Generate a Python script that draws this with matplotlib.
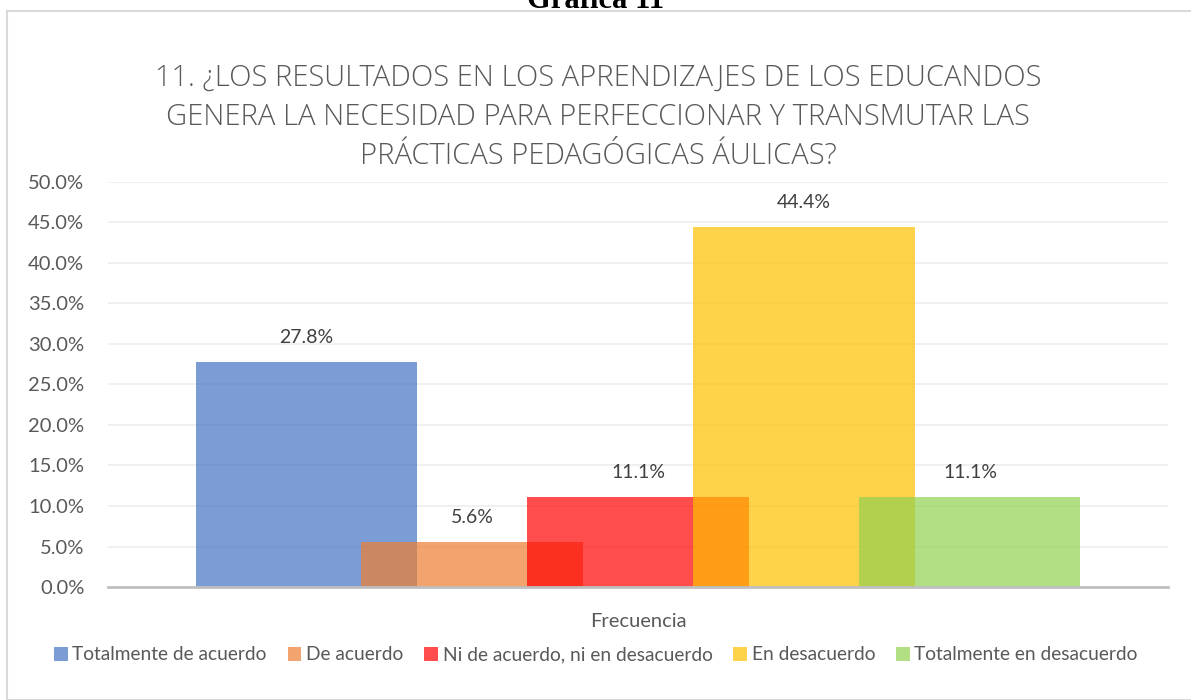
import matplotlib.pyplot as plt
from matplotlib.patches import Rectangle
from matplotlib.ticker import FuncFormatter


CATEGORY = 'Frecuencia'
SERIES = ['Totalmente de acuerdo', 'De acuerdo', 'Ni de acuerdo, ni en desacuerdo',
          'En desacuerdo', 'Totalmente en desacuerdo']
VALUES = [27.8, 5.6, 11.1, 44.4, 11.1]
COLORS = ['#4472C4', '#ED7D31', '#FF0000', '#FFC000', '#92D050']
TITLE = ('11. ¿LOS RESULTADOS EN LOS APRENDIZAJES DE LOS EDUCANDOS\n'
         'GENERA LA NECESIDAD PARA PERFECCIONAR Y TRANSMUTAR LAS\n'
         'PRÁCTICAS PEDAGÓGICAS ÁULICAS?')
Y_TICKS = [0, 5, 10, 15, 20, 25, 30, 35, 40, 45, 50]

BAR_WIDTH = 0.2085
STEP = 0.1566
FONT = ['Lato', 'DejaVu Sans']
TEXT_COLOR = '#595959'

plt.rcParams['font.family'] = FONT

fig = plt.figure(figsize=(11.91, 7), dpi=100)
W, H = 1191, 700

# outer chart frame
fig.patches.append(Rectangle((7 / W, 0), 1.2, 1 - 11 / H, transform=fig.transFigure,
                             fill=False, edgecolor='#D9D9D9', linewidth=1.5))
fig.text(0.5, 1 - 8 / H, 'Gráfica 11', ha='center', va='baseline',
         fontsize=22, fontweight='bold', family=['Liberation Serif', 'DejaVu Serif'])

ax = fig.add_axes([108 / W, 1 - 587 / H, (1168 - 108) / W, (587 - 182) / H])

for i, (name, val, col) in enumerate(zip(SERIES, VALUES, COLORS)):
    x = (i - 2) * STEP
    ax.bar(x, val, width=BAR_WIDTH, color=col, alpha=0.7, label=name, zorder=2 + i)
    ax.annotate(f'{val:.1f}%', (x, val), xytext=(0, 11.5), textcoords='offset points',
                ha='center', va='bottom', fontsize=14, color='#404040', zorder=10)

ax.set_xlim(-0.5, 0.5)
ax.set_ylim(0, 50)
ax.set_yticks(Y_TICKS)
ax.yaxis.set_major_formatter(FuncFormatter(lambda v, p: f'{v:.1f}%'))
ax.set_xticks([0])
ax.set_xticklabels([CATEGORY])
ax.tick_params(axis='y', length=0, pad=17, labelsize=14.5, labelcolor=TEXT_COLOR)
ax.tick_params(axis='x', length=0, pad=19, labelsize=14.5, labelcolor=TEXT_COLOR)
ax.grid(axis='y', color='#EDEDED', linewidth=1.2, zorder=0)
ax.set_axisbelow(True)
for s in ['top', 'right', 'left']:
    ax.spines[s].set_visible(False)
ax.spines['bottom'].set_color('#BFBFBF')
ax.spines['bottom'].set_linewidth(2)
ax.spines['bottom'].set_zorder(20)

fig.text(598 / W, 1 - 117 / H, TITLE, ha='center', va='center', fontsize=21,
         color=TEXT_COLOR, linespacing=1.43, fontweight='light',
         family=['Open Sans', 'DejaVu Sans'])

handles, labels = ax.get_legend_handles_labels()
fig.legend(handles, labels, loc='center', bbox_to_anchor=(596 / W, 1 - 655 / H), ncol=5,
           frameon=False, fontsize=13.8, handlelength=0.7, handleheight=0.7,
           handletextpad=0.25, columnspacing=1.1, labelcolor=TEXT_COLOR)

fig.savefig('out.png', dpi=100, facecolor='white')
